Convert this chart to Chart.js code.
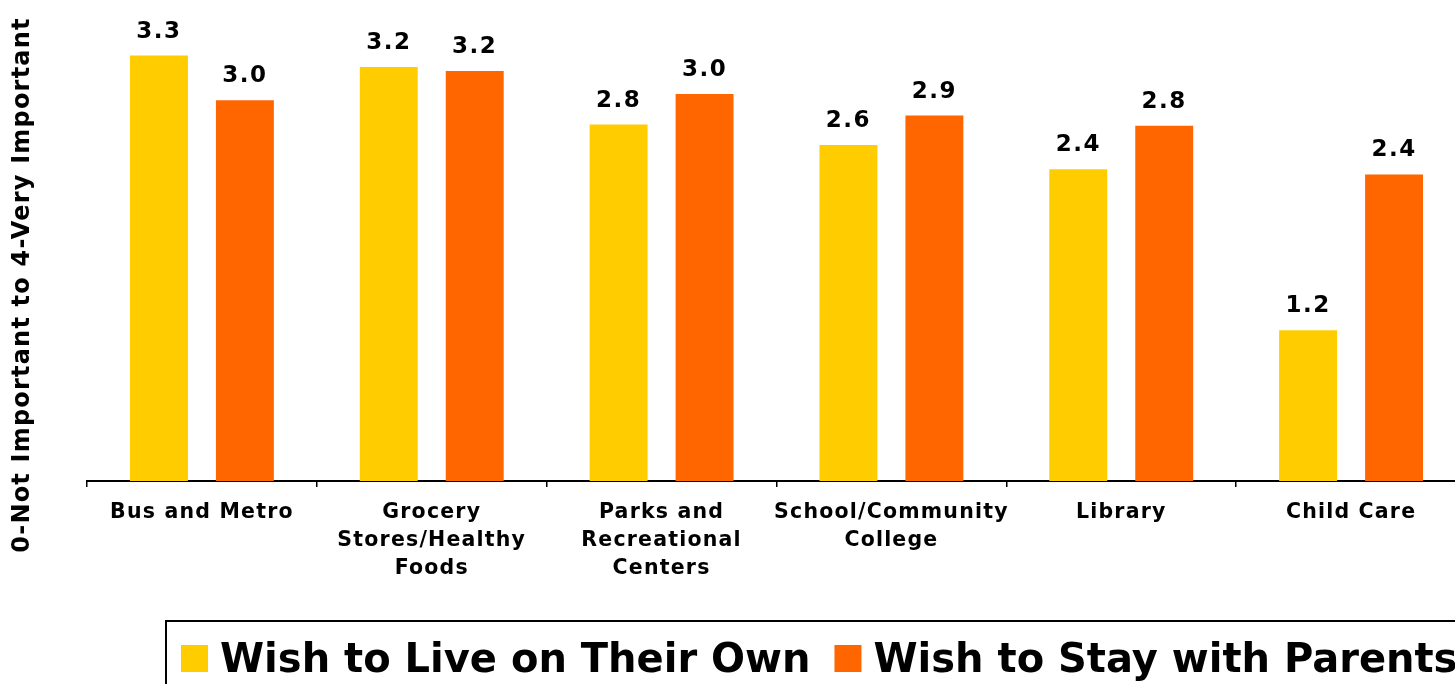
<!DOCTYPE html>
<html>
<head>
<meta charset="utf-8">
<script src="https://cdn.jsdelivr.net/npm/chart.js@4/dist/chart.umd.min.js"></script>
<style>
html,body{margin:0;padding:0;background:#fff;overflow:hidden}
canvas{display:block}
</style>
</head>
<body>
<canvas id="chart" width="1500" height="684"></canvas>
<script>
// data
const categories = [["Bus and Metro"],["Grocery","Stores/Healthy","Foods"],["Parks and","Recreational","Centers"],["School/Community","College"],["Library"],["Child Care"]];
const liveOwn = [3.33,3.24,2.79,2.63,2.44,1.18];
const stayParents = [2.98,3.21,3.03,2.86,2.78,2.40];
const seriesNames = ["Wish to Live on Their Own","Wish to Stay with Parents"];
const yTitle = "0-Not Important to 4-Very Important";

const FONT = "'DejaVu Sans', Verdana, sans-serif";

// letter spacing for axis text (old office rendering looks spaced out)
const spacing = {
  id:'spacing',
  beforeDraw(chart){ chart.ctx.letterSpacing = '1.2px'; }
};

// value labels over bars
const valueLabels = {
  id:'valueLabels',
  afterDatasetsDraw(chart){
    const ctx = chart.ctx;
    ctx.save();
    ctx.letterSpacing = '1.5px';
    ctx.font = "bold 23px " + FONT;
    ctx.fillStyle = '#000';
    ctx.textAlign = 'center';
    ctx.textBaseline = 'alphabetic';
    chart.data.datasets.forEach((ds,i)=>{
      chart.getDatasetMeta(i).data.forEach((el,j)=>{
        ctx.fillText(ds.data[j].toFixed(1), el.x, el.y - 18);
      });
    });
    ctx.restore();
  }
};

// rotated y title
const yTitlePlugin = {
  id:'yTitlePlugin',
  afterDraw(chart){
    const ctx = chart.ctx;
    ctx.save();
    ctx.letterSpacing = '1.2px';
    ctx.translate(23, 285);
    ctx.rotate(-Math.PI/2);
    ctx.font = "bold 24px " + FONT;
    ctx.fillStyle = '#000';
    ctx.textAlign = 'center';
    ctx.textBaseline = 'middle';
    ctx.fillText(yTitle, 0, 0);
    ctx.restore();
  }
};

// boxed legend at bottom
const boxLegend = {
  id:'boxLegend',
  afterDraw(chart){
    const ctx = chart.ctx;
    ctx.save();
    ctx.letterSpacing = '0px';
    ctx.lineWidth = 2;
    ctx.strokeStyle = '#000';
    ctx.strokeRect(166, 621, 1500, 200);
    ctx.font = "bold 40px " + FONT;
    ctx.textBaseline = 'alphabetic';
    ctx.textAlign = 'left';
    let x = 181;
    chart.data.datasets.forEach(ds=>{
      ctx.fillStyle = ds.backgroundColor;
      ctx.fillRect(x, 645, 27, 27);
      ctx.fillStyle = '#000';
      const tx = x + 39;
      ctx.fillText(ds.label, tx, 672);
      x = tx + ctx.measureText(ds.label).width + 24;
    });
    ctx.restore();
  }
};

new Chart(document.getElementById("chart"),{
  type:'bar',
  data:{
    labels:categories,
    datasets:[
      {label:seriesNames[0],data:liveOwn,backgroundColor:'#FFCC00',categoryPercentage:0.748,barPercentage:0.674},
      {label:seriesNames[1],data:stayParents,backgroundColor:'#FF6600',categoryPercentage:0.748,barPercentage:0.674}
    ]
  },
  options:{
    responsive:false,
    animation:false,
    layout:{padding:{left:87,right:34,top:0,bottom:89}},
    plugins:{legend:{display:false},tooltip:{enabled:false}},
    scales:{
      y:{display:false,min:0,max:3.765},
      x:{
        grid:{display:true,drawOnChartArea:false,tickLength:6,color:'#000',lineWidth:1.5},
        border:{display:true,color:'#000',width:2},
        ticks:{color:'#000',maxRotation:0,minRotation:0,autoSkip:false,padding:12,
               font:{family:FONT,weight:'bold',size:20.5,lineHeight:1.366}}
      }
    }
  },
  plugins:[spacing,valueLabels,yTitlePlugin,boxLegend]
});
</script>
</body>
</html>
